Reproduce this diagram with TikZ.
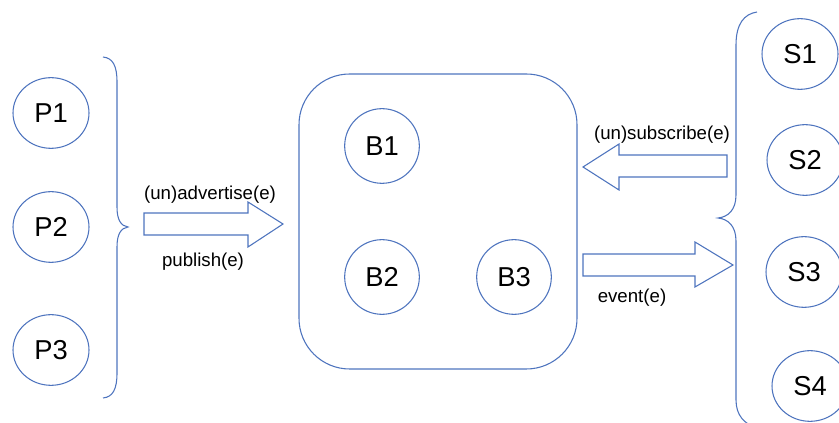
\documentclass[tikz,border=0pt]{standalone}
\usepackage{fontspec}
\setmainfont{Liberation Sans}
\usetikzlibrary{shapes.geometric}
\definecolor{ln}{RGB}{78,116,190}
\begin{document}
\begin{tikzpicture}[x=0.75pt,y=-0.75pt,
  every path/.style={line width=0.8pt},
  ent/.style={draw=ln,line width=0.8pt,ellipse,minimum width=57pt,minimum height=53pt,inner sep=0pt,font=\fontsize{20.5pt}{22pt}\selectfont},
  bnode/.style={draw=ln,line width=0.8pt,circle,minimum size=56pt,inner sep=0pt,font=\fontsize{20.5pt}{22pt}\selectfont},
  lbl/.style={font=\fontsize{14pt}{16pt}\selectfont,inner sep=0pt},
  blk/.style={draw=ln,line width=0.8pt,fill=white},
  brc/.style={draw=ln,line width=0.8pt}]
\useasboundingbox (0,0) rectangle (839,423);
% broker
\draw[ln,line width=0.8pt,rounded corners=38] (299,74) rectangle (577,369);
\node[bnode] (b1) at (382,146) {B1};
\node[bnode] (b2) at (382,277) {B2};
\node[bnode] (b3) at (514,277) {B3};
% publishers
\node[ent] (p1) at (51,113) {P1};
\node[ent] (p2) at (51,227) {P2};
\node[ent] (p3) at (51,350) {P3};
% subscribers
\node[ent] (s1) at (800,54) {S1};
\node[ent] (s2) at (805,160) {S2};
\node[ent] (s3) at (804,272) {S3};
\node[ent] (s4) at (810,386) {S4};
% left brace
\draw[brc] (103,57) .. controls (113,58) and (117,66) .. (117,82) -- (117,207)
  .. controls (117,220) and (121,226) .. (128,227)
  .. controls (121,228) and (117,234) .. (117,247) -- (117,373)
  .. controls (117,389) and (113,397) .. (103,398);
% right brace
\draw[brc] (757,12) .. controls (744,14) and (736,24) .. (736,45) -- (736,195)
  .. controls (736,210) and (728,217) .. (718,218)
  .. controls (728,219) and (736,226) .. (736,241) -- (736,400)
  .. controls (736,415) and (744,424) .. (757,428);
% block arrows
\draw[blk] (144,213) -- (248,213) -- (248,202) -- (283,224) -- (248,247) -- (248,235) -- (144,235) -- cycle;
\draw[blk] (727,155) -- (619,155) -- (619,144) -- (583,167) -- (619,190) -- (619,177) -- (727,177) -- cycle;
\draw[blk] (583,254) -- (695,254) -- (695,242) -- (733,265) -- (695,287) -- (695,276) -- (583,276) -- cycle;
% labels
\node[lbl] (l1) at (210,195) {(un)advertise(e)};
\node[lbl] (l2) at (203,262) {publish(e)};
\node[lbl] (l3) at (662,135) {(un)subscribe(e)};
\node[lbl] (l4) at (632,298) {event(e)};
\end{tikzpicture}
\end{document}
